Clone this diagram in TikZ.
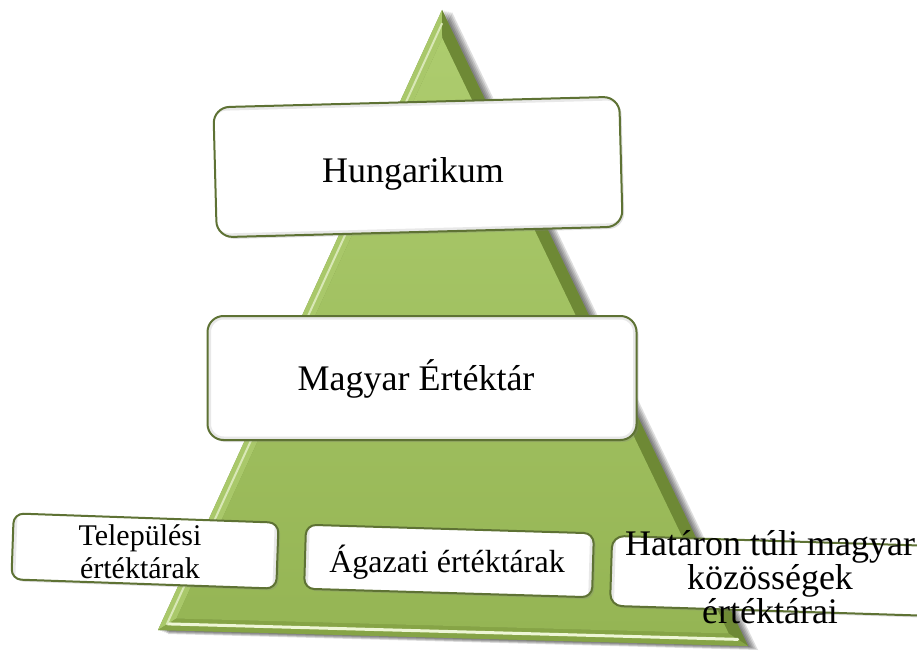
\documentclass[tikz,border=0pt]{standalone}
\usepackage{fontspec}
\setmainfont{Liberation Serif}
\usetikzlibrary{calc,shadows}
\definecolor{pyrgreen}{HTML}{9BBB59}
\definecolor{pyrtop}{HTML}{ADCC6E}
\definecolor{pyrbot}{HTML}{95B554}
\definecolor{bevleft}{HTML}{A9C86A}
\definecolor{bevright}{HTML}{6E8935}
\definecolor{bevbase}{HTML}{86A446}
\definecolor{bevhigh}{HTML}{EEF6D6}
\definecolor{boxborder}{HTML}{5E7234}
\setlength{\lineskiplimit}{-50pt}
\begin{document}
\begin{tikzpicture}[x=1pt,y=-1pt,
  roundbox/.style={draw=boxborder, line width=2pt, fill=white, rounded corners=#1,
    inner sep=0pt,
    drop shadow={opacity=0.25, shadow xshift=2pt, shadow yshift=-2pt},
    path picture={\draw[black!9, line width=7pt]
      (path picture bounding box.south west) rectangle (path picture bounding box.north east);}},
  lbl/.style={inner sep=0pt, text=black, align=center}
]
\useasboundingbox (0,0) rectangle (917,652);
% pyramid
\coordinate (A) at (442,10);
\coordinate (L) at (158,630);
\coordinate (R) at (748,646);
\coordinate (I) at (446.2,450.5);
\coordinate (Ai) at ($(I)!0.936!(A)$);
\coordinate (Li) at ($(I)!0.936!(L)$);
\coordinate (Ri) at ($(I)!0.936!(R)$);
% shadow
\foreach \s in {2,4,6,8,10}{
  \fill[black, opacity=0.13] ($(A)+(\s,0.2*\s)$) -- ($(L)+(\s,0.4*\s)$) -- ($(R)+(\s,0.4*\s)$) -- cycle;
}
\fill[pyrgreen!80!black] (A) -- (L) -- (R) -- cycle;
\fill[bevleft] (A) -- (L) -- (Li) -- (Ai) -- cycle;
\fill[bevright] (A) -- (R) -- (Ri) -- (Ai) -- cycle;
\fill[bevbase] (L) -- (R) -- (Ri) -- (Li) -- cycle;
\draw[bevhigh, line width=3pt, line cap=round] ($(I)!0.966!(L)$) -- ($(I)!0.966!(R)$);
\draw[bevhigh!70!bevleft, line width=2pt] ($(I)!0.97!(A)$) -- ($(I)!0.97!(L)$);
\shade[top color=pyrtop, bottom color=pyrbot] (Ai) -- (Li) -- (Ri) -- cycle;
% boxes
\node[roundbox=16pt, minimum width=406pt, minimum height=130pt, rotate=1.5] (hbox) at (418,167) {};
\node[lbl, anchor=base, font=\fontsize{36}{40}\selectfont] (htext) at (413,183) {Hungarikum};

\node[roundbox=16pt, minimum width=429pt, minimum height=124pt] (mbox) at (422,378) {};
\node[lbl, anchor=base, font=\fontsize{36}{40}\selectfont] (mtext) at (416,390) {Magyar Értéktár};

\node[roundbox=10pt, minimum width=265pt, minimum height=66pt, rotate=-2] (tbox) at (145,551) {};
\node[lbl, anchor=north, font=\fontsize{30}{33}\selectfont] (ttext) at (140,524) {Települési\\értéktárak};

\node[roundbox=10pt, minimum width=288pt, minimum height=64pt, rotate=-1.7] (abox) at (449,561) {};
\node[lbl, anchor=base, font=\fontsize{32}{36}\selectfont] (atext) at (447,572) {Ágazati értéktárak};

\node[roundbox=12pt, minimum width=330pt, minimum height=70pt, rotate=-1.8] (gbox) at (776,576) {};
\node[lbl, anchor=north, font=\fontsize{36}{34}\selectfont] (gtext) at (770,530) {Határon túli magyar\\közösségek\\értéktárai};
\end{tikzpicture}
\end{document}
